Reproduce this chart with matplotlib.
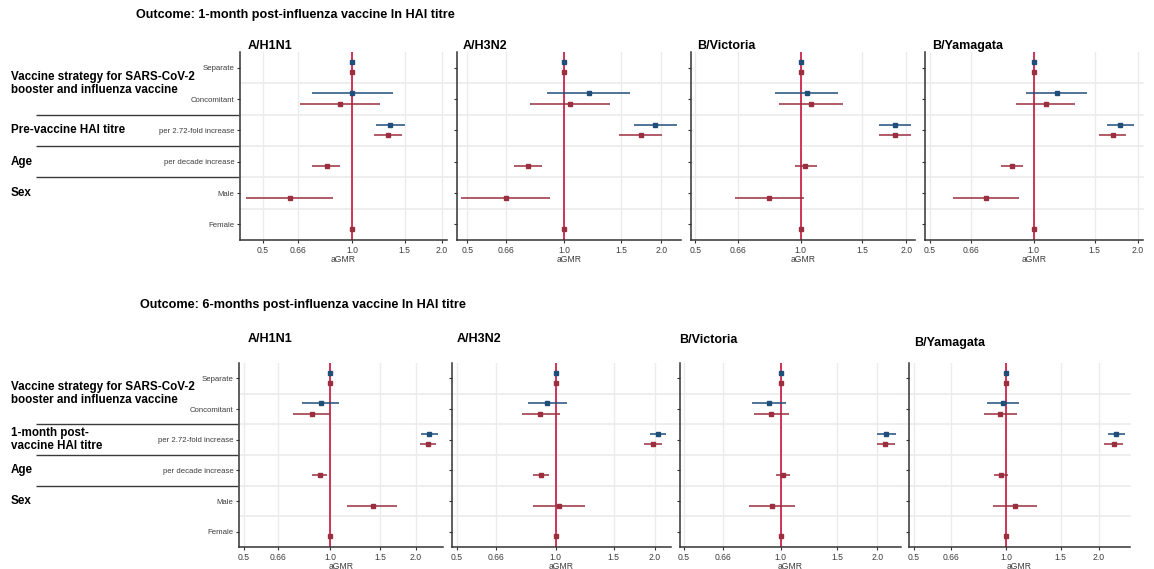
import numpy as np
import matplotlib
matplotlib.use("Agg")
import matplotlib.pyplot as plt
from matplotlib.ticker import NullLocator

plt.rcParams['font.family'] = ['Liberation Sans', 'DejaVu Sans']

nan = np.nan
W, H = 1154, 569

# ---- data ----
strains = ["A/H1N1", "A/H3N2", "B/Victoria", "B/Yamagata"]
categories = ["Separate", "Concomitant", "per 2.72-fold increase",
              "per decade increase", "Male", "Female"]
xticks = [0.5, 0.66, 1.0, 1.5, 2.0]
xtick_labels = ["0.5", "0.66", "1.0", "1.5", "2.0"]

titles = ["Outcome: 1-month post-influenza vaccine ln HAI titre",
          "Outcome: 6-months post-influenza vaccine ln HAI titre"]
group_labels = [
    ["Vaccine strategy for SARS-CoV-2\nbooster and influenza vaccine",
     "Pre-vaccine HAI titre", "Age", "Sex"],
    ["Vaccine strategy for SARS-CoV-2\nbooster and influenza vaccine",
     "1-month post-\nvaccine HAI titre", "Age", "Sex"],
]

# outcome 1: 1-month post-vaccine
blue_est_1m = [[1, 1.00, 1.34, nan, nan, nan],
               [1, 1.19, 1.91, nan, nan, nan],
               [1, 1.04, 1.86, nan, nan, nan],
               [1, 1.17, 1.78, nan, nan, nan]]
blue_lo_1m = [[nan, 0.735, 1.20, nan, nan, nan],
              [nan, 0.886, 1.64, nan, nan, nan],
              [nan, 0.846, 1.67, nan, nan, nan],
              [nan, 0.95, 1.63, nan, nan, nan]]
blue_hi_1m = [[nan, 1.37, 1.50, nan, nan, nan],
              [nan, 1.60, 2.23, nan, nan, nan],
              [nan, 1.28, 2.06, nan, nan, nan],
              [nan, 1.43, 1.95, nan, nan, nan]]
red_est_1m = [[1, 0.91, 1.32, 0.82, 0.62, 1],
              [1, 1.04, 1.73, 0.77, 0.66, 1],
              [1, 1.07, 1.86, 1.03, 0.81, 1],
              [1, 1.085, 1.69, 0.868, 0.727, 1]]
red_lo_1m = [[nan, 0.67, 1.18, 0.73, 0.44, nan],
             [nan, 0.784, 1.48, 0.70, 0.48, nan],
             [nan, 0.869, 1.67, 0.96, 0.648, nan],
             [nan, 0.887, 1.54, 0.805, 0.585, nan]]
red_hi_1m = [[nan, 1.24, 1.47, 0.91, 0.86, nan],
             [nan, 1.39, 2.01, 0.855, 0.90, nan],
             [nan, 1.32, 2.06, 1.11, 1.02, nan],
             [nan, 1.32, 1.85, 0.933, 0.905, nan]]

# outcome 2: 6-months post-vaccine
blue_est_6m = [[1, 0.93, 2.23, nan, nan, nan],
               [1, 0.943, 2.04, nan, nan, nan],
               [1, 0.92, 2.13, nan, nan, nan],
               [1, 0.978, 2.27, nan, nan, nan]]
blue_lo_6m = [[nan, 0.80, 2.09, nan, nan, nan],
              [nan, 0.826, 1.93, nan, nan, nan],
              [nan, 0.816, 2.00, nan, nan, nan],
              [nan, 0.868, 2.13, nan, nan, nan]]
blue_hi_6m = [[nan, 1.08, 2.39, nan, nan, nan],
              [nan, 1.08, 2.17, nan, nan, nan],
              [nan, 1.04, 2.28, nan, nan, nan],
              [nan, 1.10, 2.43, nan, nan, nan]]
red_est_6m = [[1, 0.862, 2.21, 0.922, 1.41, 1],
              [1, 0.898, 1.98, 0.90, 1.02, 1],
              [1, 0.935, 2.12, 1.017, 0.937, 1],
              [1, 0.956, 2.23, 0.959, 1.07, 1]]
red_lo_6m = [[nan, 0.743, 2.07, 0.865, 1.15, nan],
             [nan, 0.788, 1.86, 0.851, 0.855, nan],
             [nan, 0.828, 1.99, 0.97, 0.795, nan],
             [nan, 0.846, 2.08, 0.914, 0.905, nan]]
red_hi_6m = [[nan, 1.00, 2.36, 0.98, 1.72, nan],
             [nan, 1.03, 2.11, 0.954, 1.23, nan],
             [nan, 1.06, 2.27, 1.067, 1.105, nan],
             [nan, 1.083, 2.39, 1.01, 1.26, nan]]

outcomes = [
    (blue_est_1m, blue_lo_1m, blue_hi_1m, red_est_1m, red_lo_1m, red_hi_1m),
    (blue_est_6m, blue_lo_6m, blue_hi_6m, red_est_6m, red_lo_6m, red_hi_6m),
]

# ---- layout (pixels) ----
row_y = [(52, 240), (363, 547)]
panel_x = [[(240, 447), (457, 681), (691, 915), (925, 1143)],
           [(239, 443), (452, 671), (680, 901), (909, 1130)]]
xlims = [[(0.42, 2.08), (0.465, 2.30), (0.486, 2.12), (0.485, 2.07)],
         [(0.48, 2.49), (0.484, 2.24), (0.486, 2.37), (0.483, 2.52)]]
title_pos = [(136, 15), (140, 305)]
panel_title_pos = [[(248, 49), (463, 49), (697, 49), (932, 49)],
                   [(248, 342), (457, 342), (679, 343), (914, 346)]]

BLUE = "#1f4e79"
RED = "#9b2f3f"
REF = "#c8143c"
GRID = "#ebebeb"
AXC = "#333333"


def box(x0, x1, y0, y1):
    return [x0 / W, 1 - y1 / H, (x1 - x0) / W, (y1 - y0) / H]


fig = plt.figure(figsize=(W / 100, H / 100), dpi=100)

ypos = np.arange(len(categories), 0, -1)  # 6..1 top to bottom
group_y = [5.5, 4, 3, 2]

for r in range(2):
    y0, y1 = row_y[r]
    tx, ty = title_pos[r]
    fig.text(tx / W, 1 - ty / H, titles[r], fontsize=9.1, fontweight='bold',
             ha='left', va='center')

    # left label area
    lab = fig.add_axes(box(0, panel_x[r][0][0], y0, y1))
    lab.set_xlim(0, panel_x[r][0][0])
    lab.set_ylim(0.5, 6.5)
    lab.axis('off')
    lab.hlines([4.5, 3.5, 2.5], 36, panel_x[r][0][0] - 1, color='#3a3a3a', lw=1)
    for g, gy in zip(group_labels[r], group_y):
        lab.text(11, gy, g, fontsize=8.4, fontweight='bold', ha='left',
                 va='center', linespacing=1.15)

    be, bl, bh, re_, rl, rh = outcomes[r]
    for s in range(4):
        x0, x1 = panel_x[r][s]
        ax = fig.add_axes(box(x0, x1, y0, y1))
        ax.set_xscale('log')
        ax.set_xlim(*xlims[r][s])
        ax.set_ylim(0.5, 6.5)
        ax.set_xticks(xticks)
        ax.set_xticklabels(xtick_labels)
        ax.xaxis.set_minor_locator(NullLocator())
        ax.set_yticks(ypos)
        if s == 0:
            ax.set_yticklabels(categories)
        else:
            ax.set_yticklabels([])
        ax.tick_params(axis='y', labelsize=5.6, length=2.5, width=0.8,
                       color=AXC, labelcolor='#3d3d3d', pad=1.5)
        ax.tick_params(axis='x', labelsize=6.2, length=2.5, width=0.8,
                       color=AXC, labelcolor='#3d3d3d', pad=1.5)
        ax.set_xlabel("aGMR", fontsize=6.2, color='#3d3d3d', labelpad=0.5)
        for sp in ['top', 'right']:
            ax.spines[sp].set_visible(False)
        for sp in ['left', 'bottom']:
            ax.spines[sp].set_color(AXC)
            ax.spines[sp].set_linewidth(1.1)

        ax.grid(axis='x', color=GRID, lw=1)
        ax.set_axisbelow(True)
        ext = 0.0
        if s > 0:
            ext = -(x0 - panel_x[r][s - 1][1]) / (x1 - x0)
        for gy in [1.5, 2.5, 3.5, 4.5, 5.5]:
            ax.axhline(gy, xmin=ext, xmax=1, color=GRID, lw=1.2,
                       clip_on=False, zorder=0)

        ax.axvline(1.0, color=REF, lw=1.2, zorder=2)

        b_est = np.array(be[s], float)
        b_lo = np.array(bl[s], float)
        b_hi = np.array(bh[s], float)
        r_est = np.array(re_[s], float)
        r_lo = np.array(rl[s], float)
        r_hi = np.array(rh[s], float)

        yb = ypos + 0.18
        yr = ypos - 0.15
        ax.hlines(yb, b_lo, b_hi, color=BLUE, lw=1.1, zorder=3)
        ax.hlines(yr, r_lo, r_hi, color=RED, lw=1.1, zorder=3)
        ax.plot(b_est, yb, 's', color=BLUE, ms=2.4, zorder=4, ls='none')
        ax.plot(r_est, yr, 's', color=RED, ms=2.4, zorder=4, ls='none')

        px, py = panel_title_pos[r][s]
        fig.text(px / W, 1 - py / H, strains[s], fontsize=9, fontweight='bold',
                 ha='left', va='baseline')

fig.savefig("out.png", dpi=100)
